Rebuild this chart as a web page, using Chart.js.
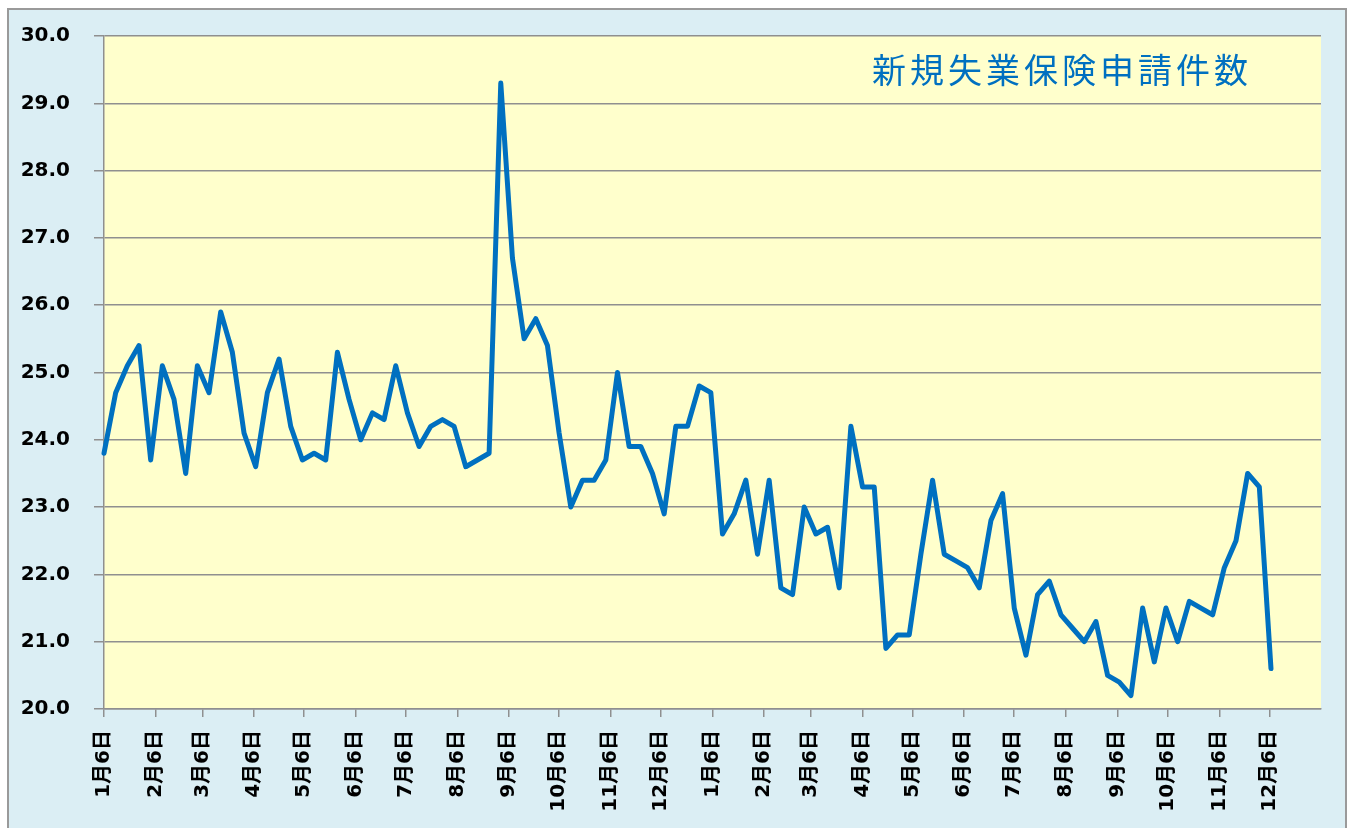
<!DOCTYPE html>
<html>
<head>
<meta charset="utf-8">
<script src="https://cdn.jsdelivr.net/npm/chart.js@4/dist/chart.umd.min.js"></script>
<style>
  html, body { margin: 0; padding: 0; background: #fff; }
  #wrap { width: 1351px; height: 828px; }
</style>
</head>
<body>
<div id="wrap"><canvas id="chartClaims" width="1351" height="828"></canvas></div>
<script>
// 新規失業保険申請件数 (万件), weekly
const TITLE      = "新規失業保険申請件数";
const START_DATE = [2017, 0, 6];          // first weekly point
const END_DATE   = [2019, 0, 6];          // right edge of the axis

const claims = [
  23.8, 24.7, 25.1, 25.4, 23.7, 25.1, 24.6, 23.5, 25.1, 24.7,
  25.9, 25.3, 24.1, 23.6, 24.7, 25.2, 24.2, 23.7, 23.8, 23.7,
  25.3, 24.6, 24.0, 24.4, 24.3, 25.1, 24.4, 23.9, 24.2, 24.3,
  24.2, 23.6, 23.7, 23.8, 29.3, 26.7, 25.5, 25.8, 25.4, 24.1,
  23.0, 23.4, 23.4, 23.7, 25.0, 23.9, 23.9, 23.5, 22.9, 24.2,
  24.2, 24.8, 24.7, 22.6, 22.9, 23.4, 22.3, 23.4, 21.8, 21.7,
  23.0, 22.6, 22.7, 21.8, 24.2, 23.3, 23.3, 20.9, 21.1, 21.1,
  22.3, 23.4, 22.3, 22.2, 22.1, 21.8, 22.8, 23.2, 21.5, 20.8,
  21.7, 21.9, 21.4, 21.2, 21.0, 21.3, 20.5, 20.4, 20.2, 21.5,
  20.7, 21.5, 21.0, 21.6, 21.5, 21.4, 22.1, 22.5, 23.5, 23.3,
  20.6
];

// month ticks: [year, monthIndex, day]
const tickDates = [
  [2017,0,6],[2017,1,6],[2017,2,6],[2017,3,6],[2017,4,6],[2017,5,6],
  [2017,6,6],[2017,7,6],[2017,8,6],[2017,9,6],[2017,10,6],[2017,11,6],
  [2018,0,6],[2018,1,6],[2018,2,6],[2018,3,6],[2018,4,6],[2018,5,6],
  [2018,6,6],[2018,7,6],[2018,8,6],[2018,9,6],[2018,10,6],[2018,11,6]
];
const tickLabels = [
  "1月6日","2月6日","3月6日","4月6日","5月6日","6月6日",
  "7月6日","8月6日","9月6日","10月6日","11月6日","12月6日",
  "1月6日","2月6日","3月6日","4月6日","5月6日","6月6日",
  "7月6日","8月6日","9月6日","10月6日","11月6日","12月6日"
];

const DAY  = 86400000;
const t0   = Date.UTC(...START_DATE);
const dayOf = ymd => (Date.UTC(...ymd) - t0) / DAY;
const tickDays = tickDates.map(dayOf);
const points   = claims.map((v, i) => ({ x: i * 7, y: v }));

const GRID  = "#8f8f8f";
const LINE  = "#0070c0";

const framePlugin = {
  id: "frame",
  beforeDraw(chart) {
    const { ctx, chartArea: a } = chart;
    ctx.save();
    ctx.fillStyle = "#ffffff";
    ctx.fillRect(0, 0, chart.width, chart.height);
    ctx.fillStyle = "#dbeef4";
    ctx.fillRect(8, 9, 1338, 830);
    ctx.strokeStyle = "#9a9a9a";
    ctx.lineWidth = 2;
    ctx.strokeRect(8, 9, 1338, 830);
    ctx.fillStyle = "#ffffcc";
    ctx.fillRect(a.left, a.top, a.right - a.left, a.bottom - a.top);
    ctx.restore();
  },
  afterDraw(chart) {
    const { ctx, chartArea: a } = chart;
    ctx.save();
    ctx.font = "34px 'Noto Sans CJK JP'";
    ctx.letterSpacing = "4px";
    ctx.fillStyle = LINE;
    ctx.textAlign = "left";
    ctx.textBaseline = "middle";
    ctx.fillText(TITLE, a.right - 449, a.top + 34);
    ctx.restore();
  }
};

new Chart(document.getElementById("chartClaims"), {
  type: "line",
  data: {
    datasets: [{
      label: TITLE,
      data: points,
      borderColor: LINE,
      borderWidth: 5,
      fill: false,
      tension: 0,
      pointRadius: 0,
      borderJoinStyle: "round",
      borderCapStyle: "round",
      clip: false
    }]
  },
  options: {
    responsive: false,
    animation: false,
    layout: { padding: { left: 0, top: 34, right: 30, bottom: 0 } },
    plugins: { legend: { display: false }, tooltip: { enabled: false } },
    scales: {
      x: {
        type: "linear",
        min: 0,
        max: dayOf(END_DATE),
        afterBuildTicks: s => { s.ticks = tickDays.map(v => ({ value: v })); },
        afterFit: s => { s.height = 119; },
        grid: { drawOnChartArea: false, drawTicks: true, tickLength: 8, color: GRID, lineWidth: 1.5 },
        border: { display: true, color: GRID, width: 1.5 },
        ticks: {
          autoSkip: false,
          minRotation: 90,
          maxRotation: 90,
          padding: 13,
          color: "#000",
          font: { family: "'DejaVu Sans', 'Noto Sans CJK JP'", size: 20, weight: "bold" },
          callback: (v, i) => tickLabels[i]
        }
      },
      y: {
        min: 20,
        max: 30,
        afterFit: s => { s.width = 104; },
        grid: { color: GRID, lineWidth: 1.5, drawTicks: true, tickLength: 10 },
        border: { display: true, color: GRID, width: 1.5 },
        ticks: {
          stepSize: 1,
          padding: 24,
          color: "#000",
          font: { family: "'DejaVu Sans'", size: 20, weight: "bold" },
          callback: v => v.toFixed(1)
        }
      }
    }
  },
  plugins: [framePlugin]
});
</script>
</body>
</html>
